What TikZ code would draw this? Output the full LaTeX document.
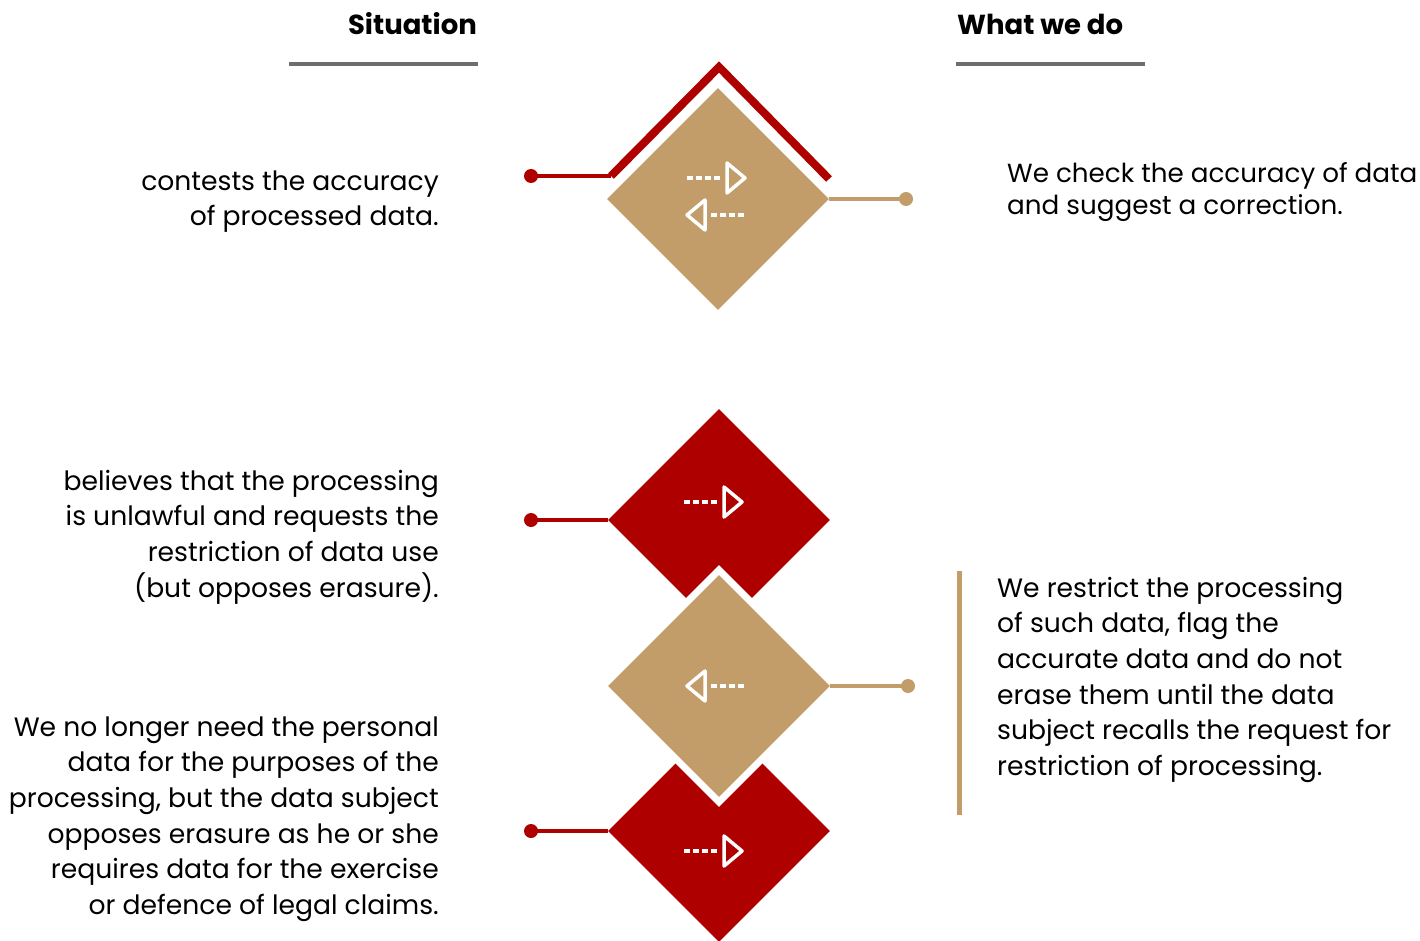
\documentclass[tikz,border=0pt]{standalone}
\usepackage{fontspec}
\setmainfont{Poppins}
\usetikzlibrary{shapes.geometric}
\definecolor{dred}{HTML}{AF0000}
\definecolor{tan}{HTML}{C39D69}
\definecolor{hgray}{HTML}{6D6D6D}
\tikzset{
  dia/.style={diamond, aspect=1, minimum width=222pt, minimum height=222pt, inner sep=0pt, draw=none},
  redconn/.style={draw=dred, line width=4pt},
  tanconn/.style={draw=tan, line width=4pt},
  icon/.style={draw=white, line width=3.5pt, line join=round, line cap=round},
  icondash/.style={draw=white, line width=3.5pt, dash pattern=on 6pt off 3pt},
  txt/.style={inner sep=0pt, font=\fontsize{26.6}{35.7}\selectfont},
  hdr/.style={inner sep=0pt, font=\fontsize{27.5}{30}\selectfont\bfseries},
  rarr/.pic={\draw[icondash] (-33,0) -- (0,0); \draw[icon] (7,-15) -- (7,15) -- (25,0) -- cycle;},
  larr/.pic={\draw[icondash] (0,0) -- (33,0); \draw[icon] (-6,-15) -- (-6,15) -- (-24,0) -- cycle;}
}
\begin{document}
\begin{tikzpicture}[x=1pt,y=-1pt]
\useasboundingbox (0,0) rectangle (1420,941);
% headers
\node[hdr, anchor=base east] (hs) at (477,35) {Situation};
\node[hdr, anchor=base west] (hw) at (957,35) {What we do};
\coordinate (u1a) at (289,64); \coordinate (u1b) at (478,64);
\coordinate (u2a) at (956,64); \coordinate (u2b) at (1145,64);
\draw[hgray, line width=4pt] (u1a) -- (u1b);
\draw[hgray, line width=4pt] (u2a) -- (u2b);
% diamond 1
\node[dia, fill=tan] (d1) at (718,199) {};
\coordinate (ch1) at (611,176); \coordinate (ch2) at (719,67); \coordinate (ch3) at (829,179);
\draw[dred, line width=8pt, line join=miter] (ch1) -- (ch2) -- (ch3);
\coordinate (p1) at (531,176);
\fill[dred] (p1) circle (7);
\draw[redconn] (p1) -- (ch1);
\coordinate (q1) at (906,199);
\fill[tan] (q1) circle (7);
\draw[tanconn] (d1.east) -- (q1);
\pic at (720,178) {rarr};
\pic at (711,215) {larr};
% diamond 2 and 4
\node[dia, fill=dred] (d2) at (719,520) {};
\node[dia, fill=dred] (d4) at (719,831) {};
% diamond 3 with white border
\node[dia, fill=white, minimum width=242pt, minimum height=242pt] (d3w) at (719,686) {};
\node[dia, fill=tan] (d3) at (719,686) {};
\coordinate (p2) at (531,520);
\fill[dred] (p2) circle (7);
\draw[redconn] (p2) -- (d2.west);
\coordinate (p4) at (531,831);
\fill[dred] (p4) circle (7);
\draw[redconn] (p4) -- (d4.west);
\coordinate (q3) at (908,686);
\fill[tan] (q3) circle (7);
\draw[tanconn] (d3.east) -- (q3);
\pic at (717,502) {rarr};
\pic at (711,686) {larr};
\pic at (717,851) {rarr};
% left texts
\node[txt, anchor=north east, align=right] (l1) at (439,165) {\strut contests the accuracy\\of processed data.};
\node[txt, anchor=north east, align=right] (l2) at (439,465) {\strut believes that the processing\\is unlawful and requests the\\restriction of data use\\(but opposes erasure).};
\node[txt, anchor=north east, align=right] (l3) at (439,711) {\strut We no longer need the personal\\data for the purposes of the\\processing, but the data subject\\opposes erasure as he or she\\requires data for the exercise\\or defence of legal claims.};
% right texts
\node[inner sep=0pt, font=\fontsize{26.2}{32}\selectfont, anchor=north west, align=left] (r1) at (1007,160) {\strut We check the accuracy of data\\and suggest a correction.};
\coordinate (b1) at (959,571); \coordinate (b2) at (959,815);
\draw[tan, line width=5pt] (b1) -- (b2);
\node[txt, anchor=north west, align=left] (r2) at (997,572) {\strut We restrict the processing\\of such data, flag the\\accurate data and do not\\erase them until the data\\subject recalls the request for\\restriction of processing.};
\end{tikzpicture}
\end{document}
